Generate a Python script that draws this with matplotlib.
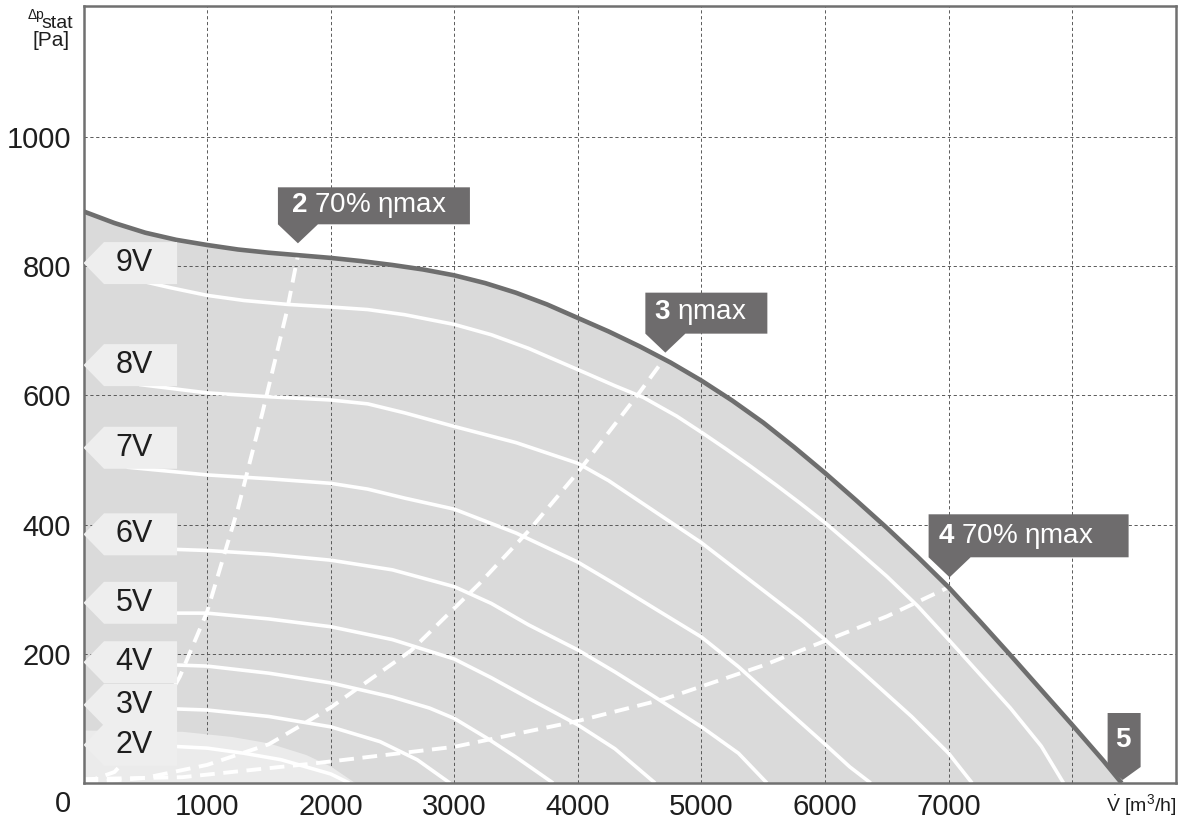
import matplotlib.patches as patches
import matplotlib.pyplot as plt
import matplotlib.transforms as mtransforms

plt.rcParams['font.family'] = ['Liberation Sans', 'DejaVu Sans']
plt.rcParams['mathtext.fontset'] = 'custom'
plt.rcParams['mathtext.rm'] = 'Liberation Sans'
plt.rcParams['mathtext.it'] = 'Liberation Sans:italic'
plt.rcParams['mathtext.bf'] = 'Liberation Sans:bold'

# ---- data (flow in m3/h, static pressure in Pa) ----
q_max = [0, 250, 500, 750, 1000, 1250, 1500, 1750, 2000, 2250, 2500, 2750, 3000, 3250,
         3500, 3750, 4000, 4250, 4500, 4750, 5000, 5250, 5500, 5750, 6000, 6250, 6500,
         6750, 7000, 7250, 7500, 7750, 8000, 8250, 8400]
p_max = [885, 867, 852, 841, 833, 826, 821, 817, 813, 808, 802, 795, 786, 774,
         759, 741, 720, 699, 676, 651, 623, 592, 558, 520, 480, 438, 395,
         350, 303, 251, 198, 144, 90, 35, 0]

q_low = [0, 800, 1200, 1500, 1800, 2000, 2200]
p_low = [82, 80, 72, 62, 44, 26, 0]

q_9v = [450, 700, 1000, 1300, 1650, 2000, 2300, 2600, 3000, 3300, 3600, 4000, 4300, 4530,
        4800, 5000, 5200, 5400, 5600, 5800, 6000, 6250, 6500, 6750, 7000, 7250, 7500, 7750, 7930]
p_9v = [778, 767, 755, 747, 741, 737, 733, 725, 710, 694, 673, 640, 615, 597,
        568, 543, 517, 490, 462, 433, 403, 362, 320, 274, 222, 169, 116, 57, 0]
q_8v = [450, 1000, 1500, 2000, 2300, 2600, 3000, 3500, 4000, 4250, 4500, 5000, 5400, 5800,
        6000, 6300, 6700, 7000, 7190]
p_8v = [617, 604, 598, 593, 587, 573, 552, 527, 495, 468, 436, 372, 313, 254,
        222, 172, 103, 46, 0]
q_7v = [350, 1000, 1500, 2000, 2300, 2600, 3000, 3500, 4000, 4300, 4640, 5000, 5300, 5660,
        6000, 6200, 6370]
p_7v = [489, 477, 471, 464, 455, 441, 424, 387, 342, 308, 268, 226, 180, 118,
        60, 25, 0]
q_6v = [700, 1000, 1500, 2000, 2500, 3000, 3300, 3600, 4000, 4300, 4600, 5000, 5300, 5530]
p_6v = [362, 360, 354, 345, 330, 304, 278, 245, 206, 172, 136, 87, 46, 0]
q_5v = [700, 1000, 1500, 2000, 2500, 3000, 3300, 3670, 4000, 4300, 4625]
p_5v = [263, 263, 254, 242, 222, 192, 163, 124, 90, 53, 0]
q_4v = [700, 1000, 1500, 2000, 2500, 2800, 3000, 3260, 3500, 3800]
p_4v = [183, 181, 170, 155, 133, 116, 100, 70, 40, 0]
q_3v = [700, 1000, 1500, 2000, 2400, 2700, 2965]
p_3v = [115, 113, 103, 87, 64, 36, 0]
q_2v = [700, 1000, 1300, 1600, 2000, 2150]
p_2v = [57, 54, 46, 36, 14, 0]

speed_labels = ['2V', '3V', '4V', '5V', '6V', '7V', '8V', '9V']
speed_q = [q_2v, q_3v, q_4v, q_5v, q_6v, q_7v, q_8v, q_9v]
speed_p = [p_2v, p_3v, p_4v, p_5v, p_6v, p_7v, p_8v, p_9v]

# system lines through the operating points 2, 3, 4
q_line2 = [0, 250, 500, 780, 1000, 1250, 1450, 1645, 1735]
p_line2 = [0, 17, 68, 165, 265, 425, 575, 730, 817]
q_line3 = [0, 500, 1000, 1500, 1750, 2000, 2650, 3200, 3600, 4000, 4500, 4700]
p_line3 = [0, 8, 28, 60, 88, 117, 205, 308, 390, 481, 605, 657]
q_line4 = [0, 800, 1850, 3000, 4000, 4700, 5500, 6000, 6500, 7000]
p_line4 = [6, 9, 30, 56, 96, 130, 182, 220, 258, 303]

point_q = [1735, 4700, 7000, 8400]
point_p = [817, 657, 303, 0]
point_labels = [r'$\mathbf{2}$ 70% ηmax', r'$\mathbf{3}$ ηmax', r'$\mathbf{4}$ 70% ηmax', r'$\mathbf{5}$']

x_ticks = [0, 1000, 2000, 3000, 4000, 5000, 6000, 7000, 8000]
x_ticklabels = ['', '1000', '2000', '3000', '4000', '5000', '6000', '7000', '']
y_ticks = [200, 400, 600, 800, 1000]

W, H = 1185, 827
fig = plt.figure(figsize=(W / 100, H / 100), dpi=100)
ax = fig.add_axes([83.5 / W, 1 - 783 / H, (1176 - 83.5) / W, (783 - 6) / H])
ax.set_xlim(0, 8840)
ax.set_ylim(0, 1203)

# shaded working area
ax.fill_between(q_max, p_max, 0, color='#dadada', lw=0, zorder=1)
ax.fill_between(q_low, p_low, 0, color='#ebebeb', lw=0, zorder=2.7)

for q, p in zip(speed_q, speed_p):
    ax.plot(q, p, color='white', lw=2.6, solid_capstyle='butt', solid_joinstyle='round', zorder=3)

for q, p in [(q_line2, p_line2), (q_line3, p_line3), (q_line4, p_line4)]:
    ax.plot(q, p, color='white', lw=2.8, linestyle=(0, (3.8, 2.2)), zorder=3.2)

ax.plot(q_max, p_max, color='#6e6e6e', lw=3.3, zorder=4, solid_capstyle='butt',
        solid_joinstyle='round')

# speed labels (arrow boxes pointing to the axis)
label_y = [59, 121, 187, 279, 385, 519, 647, 805]
for txt, cy in zip(speed_labels, label_y):
    verts = [(0, cy), (166, cy + 32.5), (757, cy + 32.5), (757, cy - 32.5), (166, cy - 32.5)]
    ax.add_patch(patches.Polygon(verts, closed=True, facecolor='#eeeeee', edgecolor='none', zorder=5))
    ax.text(410, cy, txt, ha='center', va='center', fontsize=22, color='#1e1e1e', zorder=5.5)

# operating point callouts, shapes in pixel offsets from the point
shapes = [
    [(-20, 68), (172, 68), (172, 31), (20, 31), (0, 12), (-20, 31)],
    [(-19, 66), (103, 66), (103, 25), (21, 25), (1, 6), (-19, 25)],
    [(-20, 73), (180, 73), (180, 30), (22, 30), (1, 10), (-20, 30)],
    [(-14, 70), (19, 70), (19, 16), (1, 3), (-14, 16)],
]
text_off = [(-7, 50, 'left'), (-10, 46, 'left'), (-11, 51, 'left'), (2, 43, 'center')]
for q, p, lbl, verts, (tx, ty, ha) in zip(point_q, point_p, point_labels, shapes, text_off):
    ox, oy = ax.transData.transform((q, p))
    tr = mtransforms.Affine2D().translate(ox, oy)
    ax.add_patch(patches.Polygon(verts, closed=True, transform=tr, facecolor='#6e6c6d',
                                 edgecolor='none', zorder=6, clip_on=False))
    ax.text(ox + tx, oy + ty, lbl, transform=mtransforms.IdentityTransform(), ha=ha, va='center',
            fontsize=20, color='white', zorder=7)

ax.set_xticks(x_ticks)
ax.set_xticklabels(x_ticklabels)
ax.set_yticks(y_ticks)
ax.tick_params(length=0, labelsize=21, labelcolor='#1e1e1e')
ax.tick_params(axis='x', pad=7)
ax.tick_params(axis='y', pad=9)
ax.set_axisbelow(False)
ax.grid(True, color='#5a5a5a', linestyle=(0, (3.3, 2.7)), linewidth=0.7)
for s in ax.spines.values():
    s.set_color('#707070')
    s.set_linewidth(1.8)
    s.set_zorder(4.5)

fig.text(63 / W, 1 - 804 / H, '0', ha='center', va='center', fontsize=21, color='#1e1e1e')
fig.text(1177 / W, 1 - 805 / H, r'$\dot{\mathrm{V}}$ [m$^3$/h]', ha='right', va='center',
         fontsize=14, color='#1e1e1e')
fig.text(44 / W, 1 - 15 / H, 'Δp', ha='right', va='center', fontsize=10, color='#1e1e1e')
fig.text(41 / W, 1 - 23 / H, 'stat', ha='left', va='center', fontsize=14, color='#1e1e1e')
fig.text(70 / W, 1 - 41 / H, '[Pa]', ha='right', va='center', fontsize=15, color='#1e1e1e')

fig.savefig('out.png', dpi=100)
